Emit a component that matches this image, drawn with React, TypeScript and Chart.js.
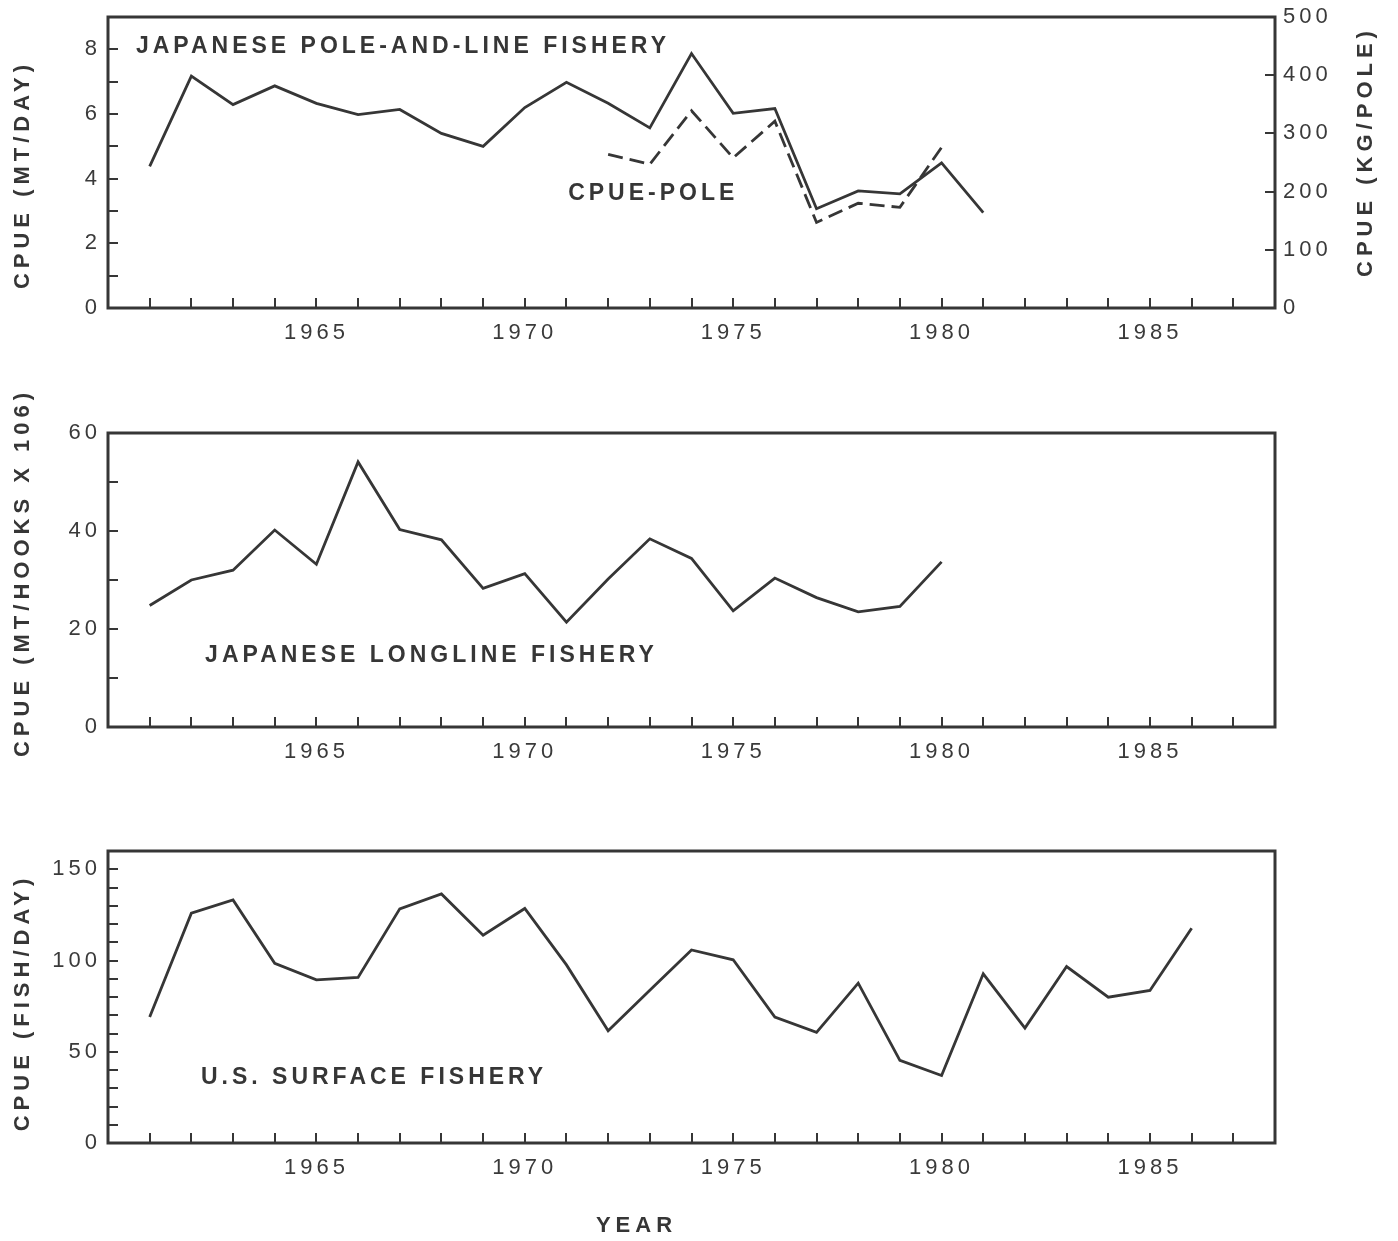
import React, { useEffect, useRef } from "react";
import { Chart, registerables } from "chart.js";

Chart.register(...registerables);

// ---------------- DATA ----------------
const YEARS_POLE = [1961, 1962, 1963, 1964, 1965, 1966, 1967, 1968, 1969, 1970, 1971, 1972, 1973, 1974, 1975, 1976, 1977, 1978, 1979, 1980, 1981];
const POLE_MT_PER_DAY = [4.38, 7.17, 6.29, 6.87, 6.33, 5.98, 6.14, 5.4, 5.0, 6.2, 6.98, 6.33, 5.57, 7.87, 6.02, 6.17, 3.07, 3.62, 3.53, 4.49, 2.95];

const YEARS_CPUE_POLE = [1972, 1973, 1974, 1975, 1976, 1977, 1978, 1979, 1980];
const CPUE_POLE_KG = [264, 247, 339, 258, 321, 147, 180, 173, 276];

const YEARS_LONGLINE = [1961, 1962, 1963, 1964, 1965, 1966, 1967, 1968, 1969, 1970, 1971, 1972, 1973, 1974, 1975, 1976, 1977, 1978, 1979, 1980];
const LONGLINE_CPUE = [24.8, 30.0, 32.0, 40.2, 33.2, 54.1, 40.3, 38.2, 28.3, 31.3, 21.4, 30.2, 38.4, 34.4, 23.7, 30.4, 26.4, 23.5, 24.6, 33.7];

const YEARS_SURFACE = [1961, 1962, 1963, 1964, 1965, 1966, 1967, 1968, 1969, 1970, 1971, 1972, 1973, 1974, 1975, 1976, 1977, 1978, 1979, 1980, 1981, 1982, 1983, 1984, 1985, 1986];
const SURFACE_FISH_PER_DAY = [69.0, 125.9, 133.2, 98.5, 89.4, 90.7, 128.3, 136.5, 113.9, 128.5, 97.6, 61.5, 83.7, 105.8, 100.4, 69.0, 60.6, 87.6, 45.3, 37.0, 92.7, 63.0, 96.7, 79.9, 83.6, 117.7];

const X_LABELED_YEARS = [1965, 1970, 1975, 1980, 1985];
const Y1_LABELED = [0, 2, 4, 6, 8];
const Y1R_LABELED = [0, 100, 200, 300, 400, 500];
const Y2_LABELED = [0, 20, 40, 60];
const Y3_LABELED = [0, 50, 100, 150];

// ---------------- STYLE ----------------
const INK = "#363636";
const LABEL_INK = "#3a3a3a";
const TICK_FONT = { family: "'Liberation Sans', Arial, sans-serif", size: 22 };
const TICK_SPACING = 4;
const BOLD_FONT = "bold 22px 'Liberation Sans', Arial, sans-serif";
const NOTE_FONT = "bold 23px 'Liberation Sans', Arial, sans-serif";
const W = 1398;

type Note = { text: string; x: number; y: number; yAxis: string };
type Title = { text: string; x: number; y: number; rotate: boolean };

function pts(xs: number[], ys: number[]) {
  return xs.map((x, i) => ({ x, y: ys[i] }));
}

function drawSpaced(ctx: CanvasRenderingContext2D, text: string, x: number, y: number, font: string, spacing: number, rotate: boolean, center: boolean) {
  ctx.save();
  ctx.font = font;
  (ctx as any).letterSpacing = spacing + "px";
  ctx.fillStyle = INK;
  ctx.textBaseline = "middle";
  ctx.textAlign = "left";
  ctx.translate(x, y);
  if (rotate) ctx.rotate(-Math.PI / 2);
  const w = ctx.measureText(text).width - spacing;
  ctx.fillText(text, center ? -w / 2 : 0, 0);
  ctx.restore();
}

function makeDecor(notes: Note[], titles: Title[]) {
  return {
    id: "decor",
    beforeDraw(chart: any) {
      (chart.ctx as any).letterSpacing = TICK_SPACING + "px";
    },
    afterDraw(chart: any) {
      const ctx: CanvasRenderingContext2D = chart.ctx;
      const a = chart.chartArea;
      ctx.save();
      (ctx as any).letterSpacing = "0px";
      ctx.strokeStyle = INK;
      ctx.lineWidth = 3;
      ctx.strokeRect(a.left, a.top, a.right - a.left, a.bottom - a.top);
      ctx.restore();
      const xs = chart.scales.x;
      for (const n of notes) {
        const ys = chart.scales[n.yAxis];
        drawSpaced(ctx, n.text, xs.getPixelForValue(n.x), ys.getPixelForValue(n.y), NOTE_FONT, 4, false, false);
      }
      for (const t of titles) {
        drawSpaced(ctx, t.text, t.x, t.y, BOLD_FONT, 5, t.rotate, true);
      }
    },
  };
}

function xScale(height: number) {
  return {
    type: "linear",
    position: "bottom",
    min: 1960,
    max: 1988,
    border: { display: false },
    grid: { drawOnChartArea: false, drawTicks: true, tickLength: -10, color: INK, lineWidth: 2 },
    ticks: {
      stepSize: 1,
      autoSkip: false,
      maxRotation: 0,
      minRotation: 0,
      padding: 22,
      color: LABEL_INK,
      font: TICK_FONT,
      callback: (v: number) => (X_LABELED_YEARS.includes(v) ? String(v) : ""),
    },
    afterFit: (s: any) => {
      s.height = height;
    },
  };
}

function yScale(max: number, step: number, labeled: number[], position: "left" | "right", width: number, padding: number) {
  return {
    type: "linear",
    position,
    min: 0,
    max,
    border: { display: false },
    grid: { drawOnChartArea: false, drawTicks: true, tickLength: -10, color: INK, lineWidth: 2 },
    ticks: {
      stepSize: step,
      autoSkip: false,
      padding,
      color: LABEL_INK,
      font: TICK_FONT,
      callback: (v: number) => (labeled.includes(v) ? String(v) : ""),
    },
    afterFit: (s: any) => {
      s.width = width;
    },
  };
}

function lineDs(data: any[], yAxisID: string, dash: number[] = []) {
  return {
    data,
    yAxisID,
    borderColor: INK,
    borderWidth: 2.8,
    borderDash: dash,
    pointRadius: 0,
    tension: 0,
    fill: false,
  };
}

const baseOptions = {
  responsive: false,
  animation: false,
  plugins: { legend: { display: false }, tooltip: { enabled: false } },
};

function Panel({ top, height, build }: { top: number; height: number; build: () => any }) {
  const ref = useRef<HTMLCanvasElement>(null);
  useEffect(() => {
    const chart = new Chart(ref.current as HTMLCanvasElement, build());
    return () => chart.destroy();
  }, []);
  return (
    <div style={{ position: "absolute", left: 0, top, width: W, height }}>
      <canvas ref={ref} width={W} height={height} style={{ display: "block", width: W, height }} />
    </div>
  );
}

// panel 1 canvas starts 20px above the page so that its chart area top lands at y=17
function buildPole() {
  return {
    type: "line",
    data: {
      datasets: [
        lineDs(pts(YEARS_POLE, POLE_MT_PER_DAY), "y"),
        lineDs(pts(YEARS_CPUE_POLE, CPUE_POLE_KG), "y1", [15, 7]),
      ],
    },
    options: {
      ...baseOptions,
      layout: { padding: { top: 37, left: 0, right: 0, bottom: 0 } },
      scales: {
        x: xScale(62),
        y: yScale(9, 1, Y1_LABELED, "left", 108, 17),
        y1: yScale(500, 100, Y1R_LABELED, "right", 123, 18),
      },
    },
    plugins: [
      makeDecor(
        [
          { text: "JAPANESE POLE-AND-LINE FISHERY", x: 1960.67, y: 8.09, yAxis: "y" },
          { text: "CPUE-POLE", x: 1971.04, y: 3.53, yAxis: "y" },
        ],
        [
          { text: "CPUE (MT/DAY)", x: 23, y: 197, rotate: true },
          { text: "CPUE (KG/POLE)", x: 1366, y: 174, rotate: true },
        ]
      ),
    ],
  };
}

function buildLongline() {
  return {
    type: "line",
    data: { datasets: [lineDs(pts(YEARS_LONGLINE, LONGLINE_CPUE), "y")] },
    options: {
      ...baseOptions,
      layout: { padding: { top: 58, left: 0, right: 123, bottom: 0 } },
      scales: {
        x: xScale(63),
        y: yScale(60, 10, Y2_LABELED, "left", 108, 17),
      },
    },
    plugins: [
      makeDecor(
        [{ text: "JAPANESE LONGLINE FISHERY", x: 1962.33, y: 14.5, yAxis: "y" }],
        [{ text: "CPUE (MT/HOOKS X 106)", x: 23, y: 200, rotate: true }]
      ),
    ],
  };
}

function buildSurface() {
  return {
    type: "line",
    data: { datasets: [lineDs(pts(YEARS_SURFACE, SURFACE_FISH_PER_DAY), "y")] },
    options: {
      ...baseOptions,
      layout: { padding: { top: 56, left: 0, right: 123, bottom: 0 } },
      scales: {
        x: xScale(98),
        y: yScale(160, 10, Y3_LABELED, "left", 108, 17),
      },
    },
    plugins: [
      makeDecor(
        [{ text: "U.S. SURFACE FISHERY", x: 1962.23, y: 35.6, yAxis: "y" }],
        [
          { text: "CPUE (FISH/DAY)", x: 23, y: 210, rotate: true },
          { text: "YEAR", x: 634, y: 431, rotate: false },
        ]
      ),
    ],
  };
}

export default function App() {
  return (
    <div style={{ position: "absolute", left: 0, top: 0, width: W, height: 1241, background: "#ffffff", overflow: "hidden" }}>
      <Panel top={-20} height={390} build={buildPole} />
      <Panel top={375} height={415} build={buildLongline} />
      <Panel top={795} height={446} build={buildSurface} />
    </div>
  );
}
